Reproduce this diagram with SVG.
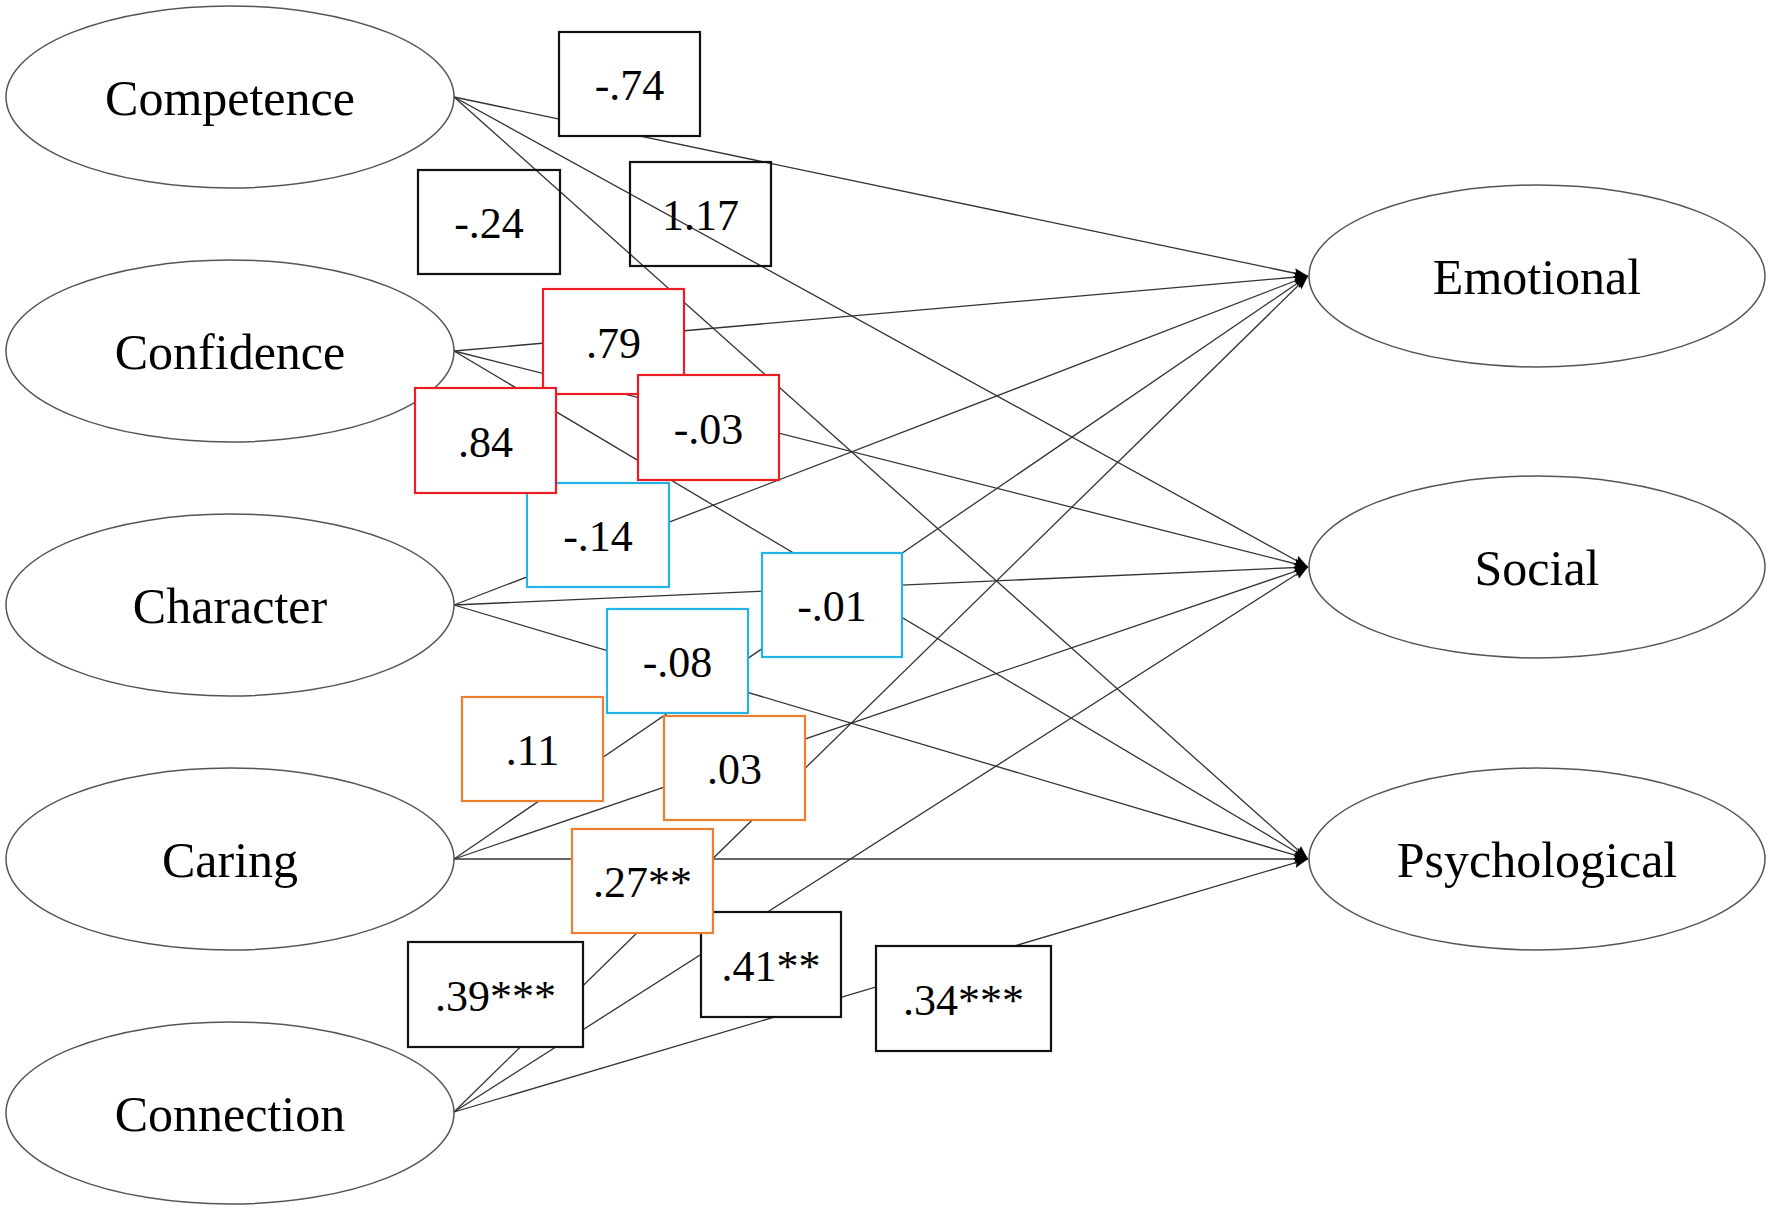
<svg xmlns="http://www.w3.org/2000/svg" width="1772" height="1211" viewBox="0 0 1772 1211">
<style>
.ell{fill:#fff;stroke:#555;stroke-width:1.5}
.lbl{font-family:"Liberation Serif","Times New Roman",serif;font-size:50px;fill:#000;text-anchor:middle}
.val{font-family:"Liberation Serif","Times New Roman",serif;font-size:44px;fill:#000;text-anchor:middle}
.bx{fill:#fff;stroke-width:2.2}
.k{stroke:#111}
.r{stroke:#ec1c24}
.b{stroke:#22b4e6}
.o{stroke:#ed7d31}
.nf{fill:none}
#connectors line{stroke:#333;stroke-width:1.3;marker-end:url(#arr)}
</style>
<defs>
<marker id="arr" markerUnits="userSpaceOnUse" markerWidth="16" markerHeight="12" refX="14" refY="5" orient="auto">
<path d="M0,0 L14,5 L0,10 L2,5 Z" fill="#000"/>
</marker>
</defs>
<rect width="1772" height="1211" fill="#fff"/>
<g id="connectors">
<line x1="454" y1="97" x2="1308" y2="276"/>
<line x1="454" y1="97" x2="1308" y2="567"/>
<line x1="454" y1="97" x2="1308" y2="859"/>
<line x1="454" y1="351" x2="1308" y2="276"/>
<line x1="454" y1="351" x2="1308" y2="567"/>
<line x1="454" y1="351" x2="1308" y2="859"/>
<line x1="454" y1="605" x2="1308" y2="276"/>
<line x1="454" y1="605" x2="1308" y2="567"/>
<line x1="454" y1="605" x2="1308" y2="859"/>
<line x1="454" y1="859" x2="1308" y2="276"/>
<line x1="454" y1="859" x2="1308" y2="567"/>
<line x1="454" y1="859" x2="1308" y2="859"/>
<line x1="454" y1="1112" x2="1308" y2="276"/>
<line x1="454" y1="1112" x2="1308" y2="567"/>
<line x1="454" y1="1112" x2="1308" y2="859"/>
</g>
<g id="competence"><ellipse class="ell" cx="230" cy="97" rx="224" ry="91"/><text class="lbl" x="230" y="115">Competence</text></g>
<g id="confidence"><ellipse class="ell" cx="230" cy="351" rx="224" ry="91"/><text class="lbl" x="230" y="369">Confidence</text></g>
<g id="character"><ellipse class="ell" cx="230" cy="605" rx="224" ry="91"/><text class="lbl" x="230" y="623">Character</text></g>
<g id="caring"><ellipse class="ell" cx="230" cy="859" rx="224" ry="91"/><text class="lbl" x="230" y="877">Caring</text></g>
<g id="connection"><ellipse class="ell" cx="230" cy="1113" rx="224" ry="91"/><text class="lbl" x="230" y="1131">Connection</text></g>
<g id="emotional"><ellipse class="ell" cx="1537" cy="276" rx="228" ry="91"/><text class="lbl" x="1537" y="294">Emotional</text></g>
<g id="social"><ellipse class="ell" cx="1537" cy="567" rx="228" ry="91"/><text class="lbl" x="1537" y="585">Social</text></g>
<g id="psychological"><ellipse class="ell" cx="1537" cy="859" rx="228" ry="91"/><text class="lbl" x="1537" y="877">Psychological</text></g>
<g id="labels">
<g id="v-74"><rect class="bx k" x="559" y="32" width="141" height="104"/><text class="val" x="629.5" y="100">-.74</text></g>
<g id="v-24"><rect class="bx k nf" x="418" y="170" width="142" height="104"/><text class="val" x="489" y="238">-.24</text></g>
<g id="v117"><rect class="bx k nf" x="630" y="162" width="141" height="104"/><text class="val" x="700.5" y="230">1.17</text></g>
<g id="v-14"><rect class="bx b" x="527" y="483" width="142" height="104"/><text class="val" x="598" y="551">-.14</text></g>
<g id="v79"><rect class="bx r" x="543" y="289" width="141" height="105"/><text class="val" x="613.5" y="358">.79</text></g>
<g id="v84"><rect class="bx r" x="415" y="388" width="141" height="105"/><text class="val" x="485.5" y="457">.84</text></g>
<g id="v-03"><rect class="bx r" x="638" y="375" width="141" height="105"/><text class="val" x="708.5" y="444">-.03</text></g>
<g id="v-01"><rect class="bx b" x="762" y="553" width="140" height="104"/><text class="val" x="832" y="621">-.01</text></g>
<g id="v-08"><rect class="bx b" x="607" y="609" width="141" height="104"/><text class="val" x="677.5" y="677">-.08</text></g>
<g id="v11"><rect class="bx o" x="462" y="697" width="141" height="104"/><text class="val" x="532.5" y="765">.11</text></g>
<g id="v03"><rect class="bx o" x="664" y="716" width="141" height="104"/><text class="val" x="734.5" y="784">.03</text></g>
<g id="v39"><rect class="bx k" x="408" y="942" width="175" height="105"/><text class="val" x="495.5" y="1011">.39***</text></g>
<g id="v41"><rect class="bx k" x="701" y="912" width="140" height="105"/><text class="val" x="771" y="981">.41**</text></g>
<g id="v27"><rect class="bx o" x="572" y="829" width="141" height="104"/><text class="val" x="642.5" y="897">.27**</text></g>
<g id="v34"><rect class="bx k" x="876" y="946" width="175" height="105"/><text class="val" x="963.5" y="1015">.34***</text></g>
</g>
</svg>
